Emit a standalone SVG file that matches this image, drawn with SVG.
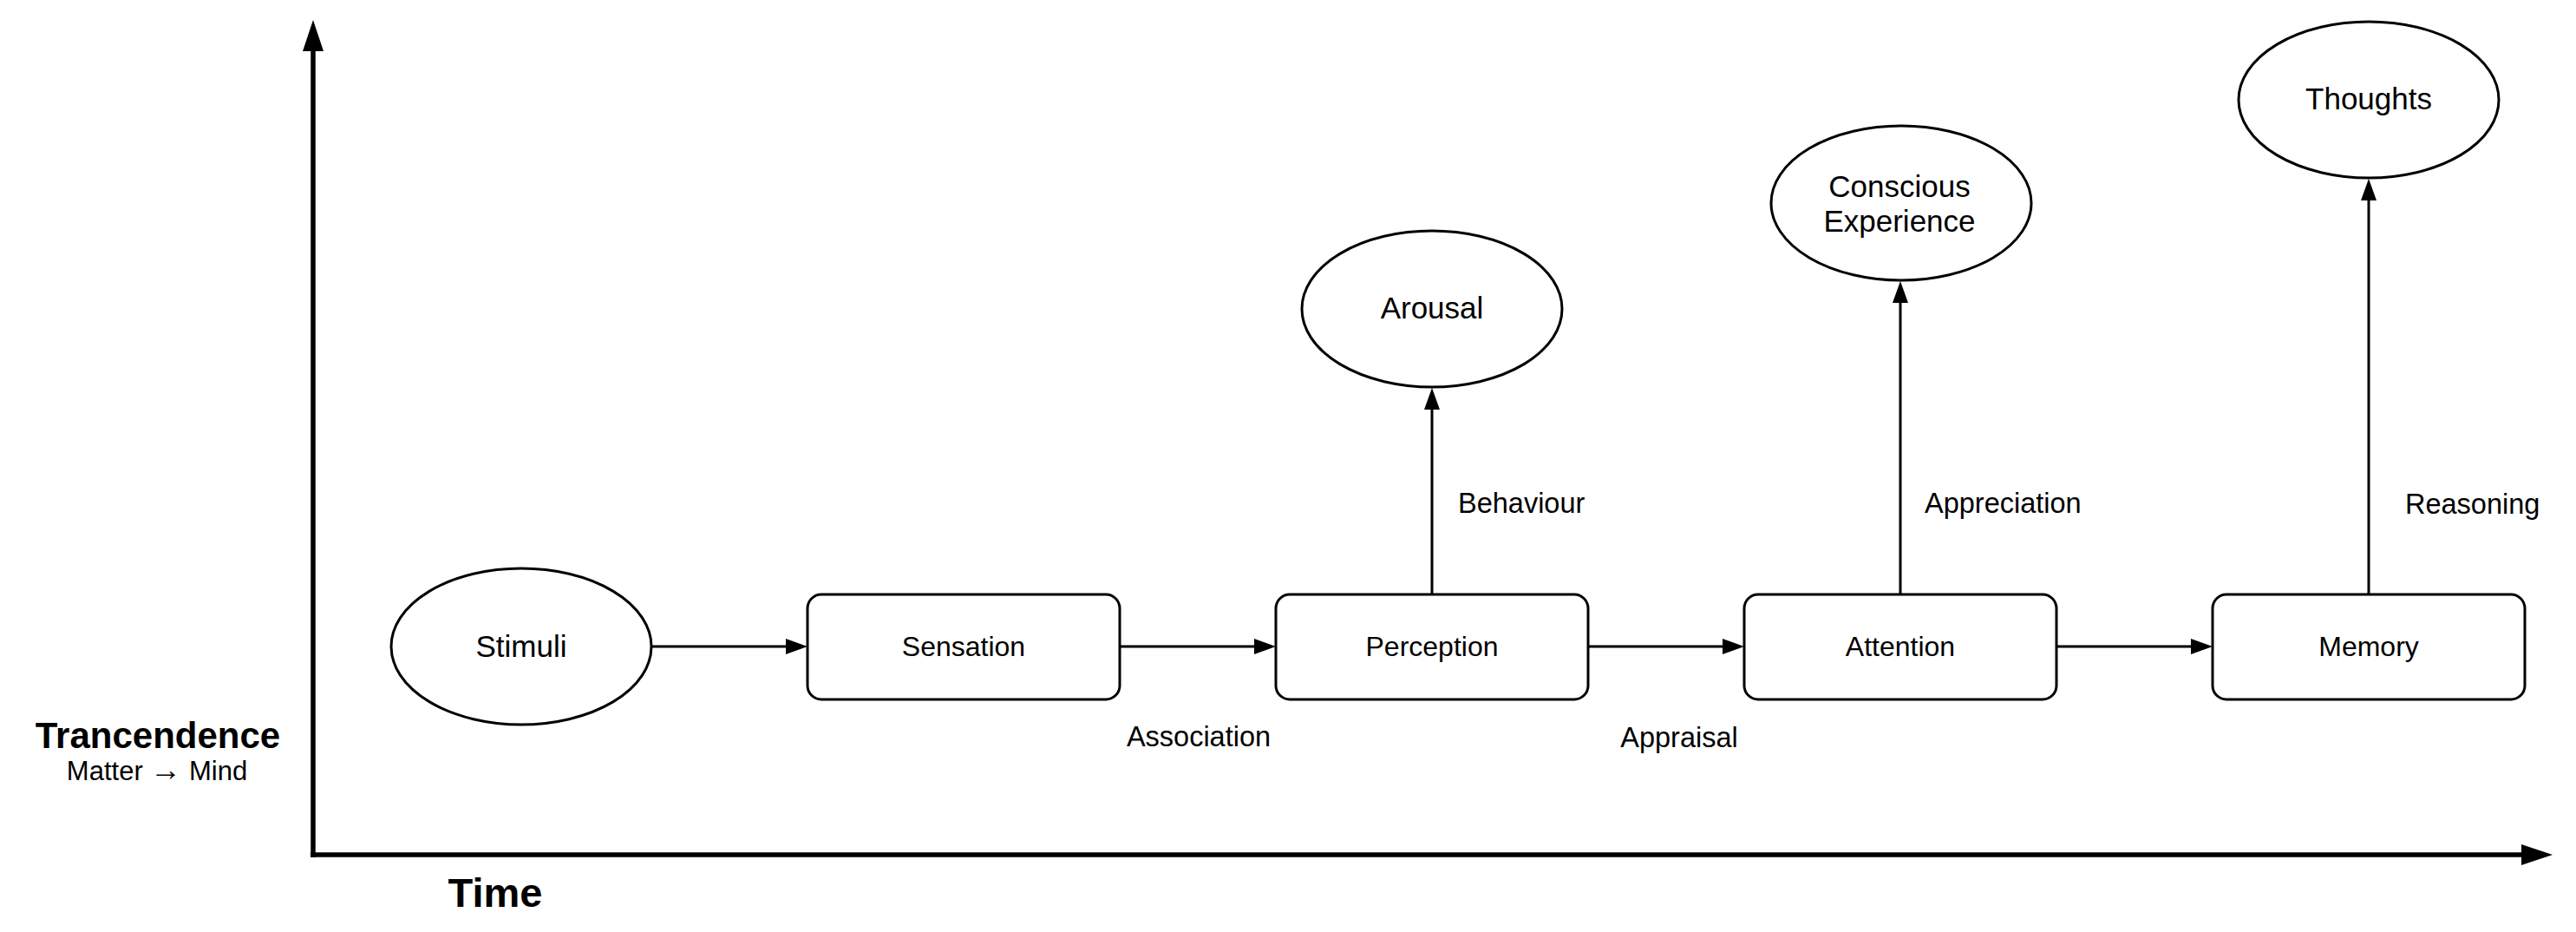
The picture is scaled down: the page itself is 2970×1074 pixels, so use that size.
<svg xmlns="http://www.w3.org/2000/svg" width="2970" height="1074" viewBox="0 0 2970 1074">
<defs>
<style>
.node{fill:#ffffff;stroke:#000000;stroke-width:3}
.conn{fill:none;stroke:#000000;stroke-width:3}
.axis{fill:none;stroke:#000000;stroke-width:5.5}
text{font-family:"Liberation Sans",Arial,Helvetica,sans-serif;fill:#000000}
.t32{font-size:32px;text-anchor:middle}
.t35{font-size:35px;text-anchor:middle}
.lbl{font-size:32.5px}
.bold{font-weight:bold}
</style>
<marker id="arr" markerUnits="userSpaceOnUse" markerWidth="26" markerHeight="20" refX="0" refY="9" orient="auto" overflow="visible">
<path d="M0,0 L25,9 L0,18 Z" fill="#000000"/>
</marker>
<marker id="axarr" markerUnits="userSpaceOnUse" markerWidth="37" markerHeight="26" refX="0" refY="12" orient="auto" overflow="visible">
<path d="M0,0 L36,12 L0,24 Z" fill="#000000"/>
</marker>
</defs>
<rect x="0" y="0" width="2970" height="1074" fill="#ffffff"/>

<g id="axes">
<path class="axis" d="M361,988 L361,59" marker-end="url(#axarr)"/>
<path class="axis" d="M358,985 L2907,985" marker-end="url(#axarr)"/>
</g>

<g id="connectors">
<path class="conn" d="M751,745 L906,745" marker-end="url(#arr)"/>
<path class="conn" d="M1291,745 L1446,745" marker-end="url(#arr)"/>
<path class="conn" d="M1831,745 L1986,745" marker-end="url(#arr)"/>
<path class="conn" d="M2371,745 L2526,745" marker-end="url(#arr)"/>
<path class="conn" d="M1651,685 L1651,472" marker-end="url(#arr)"/>
<path class="conn" d="M2191,685 L2191,349" marker-end="url(#arr)"/>
<path class="conn" d="M2731,685 L2731,231" marker-end="url(#arr)"/>
</g>

<g id="edge-labels">
<text class="lbl" x="1382" y="860" text-anchor="middle">Association</text>
<text class="lbl" x="1936" y="861" text-anchor="middle">Appraisal</text>
<text class="lbl" x="1681" y="591">Behaviour</text>
<text class="lbl" x="2219" y="591">Appreciation</text>
<text class="lbl" x="2773" y="592">Reasoning</text>
</g>

<g id="stimuli">
<ellipse class="node" cx="601" cy="745" rx="150" ry="90"/>
<text class="t35" x="601" y="757">Stimuli</text>
</g>
<g id="sensation">
<rect class="node" x="931" y="685" width="360" height="121" rx="16" ry="16"/>
<text class="t32" x="1111" y="756">Sensation</text>
</g>
<g id="perception">
<rect class="node" x="1471" y="685" width="360" height="121" rx="16" ry="16"/>
<text class="t32" x="1651" y="756">Perception</text>
</g>
<g id="attention">
<rect class="node" x="2011" y="685" width="360" height="121" rx="16" ry="16"/>
<text class="t32" x="2191" y="756">Attention</text>
</g>
<g id="memory">
<rect class="node" x="2551" y="685" width="360" height="121" rx="16" ry="16"/>
<text class="t32" x="2731" y="756">Memory</text>
</g>
<g id="arousal">
<ellipse class="node" cx="1651" cy="356" rx="150" ry="90"/>
<text class="t35" x="1651" y="367">Arousal</text>
</g>
<g id="conscious-experience">
<ellipse class="node" cx="2192" cy="234" rx="150" ry="89"/>
<text class="t35" x="2190" y="227">Conscious</text>
<text class="t35" x="2190" y="267">Experience</text>
</g>
<g id="thoughts">
<ellipse class="node" cx="2731" cy="115" rx="150" ry="90"/>
<text class="t35" x="2731" y="126">Thoughts</text>
</g>

<g id="axis-labels">
<text class="bold" x="182" y="862" font-size="42" text-anchor="middle">Trancendence</text>
<text x="181" y="899" font-size="31" text-anchor="middle">Matter <tspan font-size="36">→</tspan> Mind</text>
<text class="bold" x="571" y="1045" font-size="47" text-anchor="middle">Time</text>
</g>
</svg>
